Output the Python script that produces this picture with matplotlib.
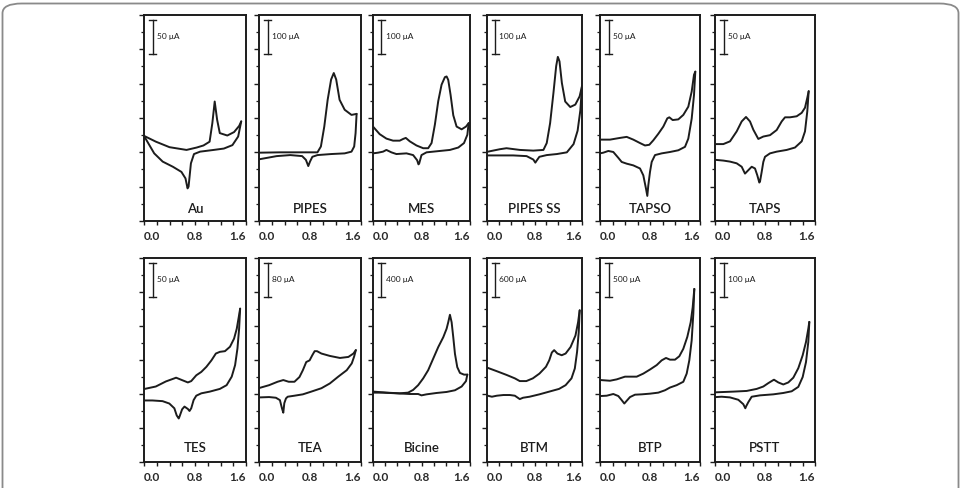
"""
Cyclic voltammograms of 12 buffers, redrawn as a 2 x 6 grid of small panels.
x: potential (V), y: current in scale-bar divisions (1 division = label on the bar).
"""

import matplotlib.pyplot as plt
from matplotlib.patches import FancyBboxPatch
from matplotlib.ticker import MultipleLocator

plt.rcParams["font.family"] = ["Lato", "DejaVu Sans"]

# ---------------------------------------------------------------------------
# DATA  -- (potential V, current in divisions), anodic sweep then reverse sweep
# ---------------------------------------------------------------------------
NAMES = ["Au", "PIPES", "MES", "PIPES SS", "TAPSO", "TAPS",
         "TES", "TEA", "Bicine", "BTM", "BTP", "PSTT"]
SCALES = ["50 μA", "100 μA", "100 μA", "100 μA", "50 μA", "50 μA",
          "50 μA", "80 μA", "400 μA", "600 μA", "500 μA", "100 μA"]

AU_UP = [(0.0, 2.48), (0.187, 2.31), (0.40, 2.15), (0.667, 2.07), (0.827, 2.14),
         (0.933, 2.20), (1.029, 2.31), (1.072, 2.85), (1.109, 3.48), (1.147, 2.95),
         (1.189, 2.56), (1.307, 2.49), (1.413, 2.59), (1.493, 2.77), (1.525, 2.90)]
AU_DN = [(1.525, 2.90), (1.477, 2.46), (1.387, 2.21), (1.253, 2.11), (1.093, 2.07),
         (0.88, 2.02), (0.784, 1.95), (0.736, 1.68), (0.699, 1.00), (0.683, 0.95),
         (0.651, 1.24), (0.587, 1.43), (0.453, 1.58), (0.293, 1.73), (0.16, 1.97),
         (0.053, 2.31), (0.0, 2.48)]

PIPES_UP = [(0.01, 1.99), (0.33, 2.0), (0.70, 2.0), (0.917, 2.0), (0.971, 2.17),
            (1.024, 2.75), (1.077, 3.53), (1.131, 4.12), (1.173, 4.31), (1.211, 4.12),
            (1.264, 3.53), (1.344, 3.24), (1.451, 3.09), (1.531, 3.12)]
PIPES_DN = [(1.531, 3.12), (1.515, 2.56), (1.493, 2.17), (1.451, 2.02), (1.344, 1.97),
            (1.131, 1.95), (0.917, 1.92), (0.837, 1.87), (0.80, 1.73), (0.773, 1.60),
            (0.736, 1.78), (0.677, 1.89), (0.491, 1.92), (0.277, 1.89), (0.01, 1.80)]

MES_UP = [(0.0, 2.75), (0.11, 2.53), (0.221, 2.40), (0.331, 2.34), (0.441, 2.34),
          (0.497, 2.39), (0.541, 2.42), (0.607, 2.32), (0.717, 2.20), (0.828, 2.12),
          (0.91, 2.12), (0.966, 2.27), (1.021, 2.81), (1.076, 3.49), (1.131, 3.97),
          (1.186, 4.19), (1.214, 4.21), (1.241, 4.11), (1.28, 3.67), (1.324, 3.08),
          (1.379, 2.75), (1.462, 2.67), (1.534, 2.75), (1.578, 2.85)]
MES_DN = [(1.578, 2.85), (1.556, 2.51), (1.501, 2.27), (1.407, 2.14), (1.269, 2.07),
          (1.103, 2.04), (0.883, 2.0), (0.80, 1.92), (0.761, 1.67), (0.75, 1.65),
          (0.728, 1.77), (0.662, 1.92), (0.552, 1.97), (0.386, 1.95), (0.303, 2.0),
          (0.221, 2.07), (0.166, 2.02), (0.083, 1.99), (0.0, 1.97)]

PIPESSS_UP = [(0.017, 2.02), (0.215, 2.09), (0.328, 2.12), (0.554, 2.07), (0.78, 2.05),
              (0.95, 2.07), (1.006, 2.27), (1.063, 2.85), (1.119, 3.73), (1.165, 4.51),
              (1.193, 4.78), (1.221, 4.65), (1.261, 4.02), (1.317, 3.48), (1.402, 3.32),
              (1.487, 3.39), (1.56, 3.63), (1.6, 3.93)]
PIPESSS_DN = [(1.6, 3.93), (1.572, 3.22), (1.526, 2.63), (1.458, 2.24), (1.345, 2.0),
              (1.176, 1.95), (1.006, 1.92), (0.882, 1.87), (0.837, 1.76), (0.814, 1.70),
              (0.78, 1.79), (0.667, 1.89), (0.441, 1.91), (0.215, 1.91), (0.017, 1.91)]

TAPSO_UP = [(0.011, 2.37), (0.16, 2.37), (0.32, 2.42), (0.427, 2.45), (0.533, 2.37),
            (0.64, 2.27), (0.72, 2.20), (0.789, 2.22), (0.853, 2.35), (0.933, 2.54),
            (1.013, 2.75), (1.077, 2.99), (1.109, 3.02), (1.163, 2.94), (1.253, 2.96),
            (1.333, 3.09), (1.413, 3.33), (1.467, 3.77), (1.504, 4.26), (1.525, 4.35)]
TAPSO_DN = [(1.525, 4.35), (1.504, 3.67), (1.467, 2.98), (1.413, 2.40), (1.36, 2.16),
            (1.253, 2.06), (1.12, 2.01), (0.987, 1.97), (0.88, 1.92), (0.827, 1.72),
            (0.80, 1.43), (0.773, 1.04), (0.757, 0.73), (0.736, 0.94), (0.693, 1.33),
            (0.64, 1.53), (0.533, 1.62), (0.427, 1.67), (0.347, 1.72), (0.293, 1.84),
            (0.213, 2.01), (0.133, 2.04), (0.053, 1.99), (0.0, 1.97)]

TAPS_UP = [(0.016, 2.24), (0.133, 2.24), (0.24, 2.32), (0.347, 2.61), (0.427, 2.90),
           (0.496, 3.03), (0.56, 2.90), (0.613, 2.66), (0.693, 2.39), (0.773, 2.46),
           (0.88, 2.50), (0.987, 2.65), (1.067, 2.90), (1.12, 3.02), (1.20, 3.02),
           (1.307, 3.05), (1.387, 3.15), (1.44, 3.30), (1.477, 3.59), (1.499, 3.78)]
TAPS_DN = [(1.499, 3.78), (1.477, 3.20), (1.44, 2.61), (1.387, 2.32), (1.28, 2.14),
           (1.147, 2.07), (0.987, 2.02), (0.88, 1.97), (0.80, 1.87), (0.773, 1.72),
           (0.747, 1.43), (0.72, 1.15), (0.709, 1.12), (0.677, 1.33), (0.64, 1.53),
           (0.587, 1.58), (0.533, 1.48), (0.48, 1.38), (0.427, 1.58), (0.347, 1.68),
           (0.24, 1.73), (0.133, 1.76), (0.016, 1.78)]

TES_UP = [(0.011, 2.15), (0.185, 2.22), (0.344, 2.37), (0.476, 2.46), (0.503, 2.48),
          (0.582, 2.42), (0.688, 2.34), (0.741, 2.38), (0.82, 2.55), (0.899, 2.65),
          (0.979, 2.80), (1.058, 2.99), (1.127, 3.19), (1.19, 3.24), (1.27, 3.26),
          (1.349, 3.39), (1.413, 3.63), (1.455, 3.92), (1.487, 4.27), (1.508, 4.51)]
TES_DN = [(1.508, 4.51), (1.492, 3.92), (1.466, 3.34), (1.429, 2.85), (1.376, 2.51),
          (1.296, 2.26), (1.19, 2.15), (1.032, 2.07), (0.899, 2.02), (0.82, 1.95),
          (0.778, 1.82), (0.741, 1.58), (0.714, 1.50), (0.688, 1.56), (0.635, 1.63),
          (0.598, 1.55), (0.556, 1.33), (0.545, 1.28), (0.513, 1.37), (0.476, 1.58),
          (0.397, 1.72), (0.291, 1.79), (0.132, 1.81), (0.011, 1.81)]

TEA_UP = [(0.011, 2.18), (0.159, 2.26), (0.291, 2.36), (0.381, 2.41), (0.466, 2.36),
          (0.556, 2.36), (0.635, 2.50), (0.688, 2.70), (0.741, 2.94), (0.794, 2.99),
          (0.836, 3.14), (0.873, 3.26), (0.91, 3.26), (0.979, 3.19), (1.111, 3.12),
          (1.27, 3.06), (1.402, 3.09), (1.481, 3.19), (1.519, 3.29)]
TEA_DN = [(1.519, 3.29), (1.492, 3.10), (1.455, 2.90), (1.376, 2.70), (1.243, 2.51),
          (1.111, 2.31), (0.979, 2.17), (0.82, 2.07), (0.688, 1.99), (0.556, 1.95),
          (0.45, 1.92), (0.423, 1.87), (0.397, 1.73), (0.381, 1.45), (0.36, 1.58),
          (0.328, 1.82), (0.265, 1.89), (0.159, 1.91), (0.011, 1.90)]

BICINE_UP = [(0.011, 2.07), (0.221, 2.04), (0.441, 2.02), (0.579, 2.04), (0.662, 2.12),
             (0.745, 2.26), (0.828, 2.46), (0.91, 2.70), (0.993, 3.04), (1.076, 3.38),
             (1.159, 3.67), (1.214, 3.92), (1.241, 4.11), (1.269, 4.33), (1.297, 4.11),
             (1.324, 3.67), (1.352, 3.18), (1.39, 2.79), (1.434, 2.62), (1.501, 2.57),
             (1.556, 2.57)]
BICINE_DN = [(1.556, 2.57), (1.534, 2.38), (1.462, 2.22), (1.352, 2.11), (1.214, 2.06),
             (1.048, 2.03), (0.883, 1.99), (0.80, 1.96), (0.745, 2.0), (0.607, 2.0),
             (0.386, 2.02), (0.166, 2.04), (0.011, 2.04)]

BTM_UP = [(0.011, 2.77), (0.166, 2.67), (0.331, 2.56), (0.469, 2.46), (0.552, 2.38),
          (0.662, 2.38), (0.772, 2.46), (0.883, 2.60), (0.993, 2.80), (1.048, 2.99),
          (1.092, 3.22), (1.131, 3.29), (1.186, 3.19), (1.258, 3.14), (1.324, 3.19),
          (1.407, 3.38), (1.49, 3.72), (1.534, 4.11), (1.561, 4.46)]
BTM_DN = [(1.561, 4.46), (1.545, 3.82), (1.517, 3.24), (1.479, 2.75), (1.423, 2.46),
          (1.324, 2.26), (1.214, 2.15), (1.048, 2.07), (0.883, 1.99), (0.717, 1.92),
          (0.607, 1.89), (0.552, 1.85), (0.469, 1.95), (0.386, 1.97), (0.276, 1.97),
          (0.166, 1.95), (0.083, 1.92), (0.011, 1.95)]

BTP_UP = [(0.011, 2.41), (0.16, 2.39), (0.267, 2.43), (0.40, 2.51), (0.587, 2.51),
          (0.693, 2.60), (0.80, 2.72), (0.907, 2.85), (0.987, 2.99), (1.056, 3.06),
          (1.12, 3.01), (1.20, 3.01), (1.269, 3.11), (1.333, 3.33), (1.397, 3.68),
          (1.451, 4.11), (1.483, 4.55), (1.509, 5.09)]
BTP_DN = [(1.509, 5.09), (1.493, 4.36), (1.467, 3.58), (1.429, 2.99), (1.387, 2.60),
          (1.333, 2.36), (1.227, 2.26), (1.12, 2.19), (1.04, 2.11), (0.933, 2.04),
          (0.80, 2.01), (0.667, 1.99), (0.56, 1.98), (0.48, 1.91), (0.427, 1.80),
          (0.389, 1.72), (0.347, 1.82), (0.293, 1.94), (0.213, 2.0), (0.107, 1.95),
          (0.011, 1.94)]

PSTT_UP = [(0.016, 2.05), (0.293, 2.07), (0.507, 2.09), (0.667, 2.15), (0.773, 2.22),
           (0.853, 2.32), (0.933, 2.41), (0.944, 2.42), (1.013, 2.34), (1.093, 2.28),
           (1.173, 2.34), (1.253, 2.48), (1.333, 2.76), (1.403, 3.14), (1.456, 3.53),
           (1.493, 3.92), (1.509, 4.12)]
PSTT_DN = [(1.509, 4.12), (1.493, 3.53), (1.456, 2.94), (1.403, 2.50), (1.333, 2.21),
           (1.227, 2.08), (1.093, 2.03), (0.933, 1.99), (0.72, 1.96), (0.587, 1.92),
           (0.533, 1.76), (0.496, 1.63), (0.485, 1.58), (0.453, 1.70), (0.373, 1.83),
           (0.24, 1.90), (0.107, 1.92), (0.016, 1.91)]

CURVES = [(AU_UP, AU_DN), (PIPES_UP, PIPES_DN), (MES_UP, MES_DN),
          (PIPESSS_UP, PIPESSS_DN), (TAPSO_UP, TAPSO_DN), (TAPS_UP, TAPS_DN),
          (TES_UP, TES_DN), (TEA_UP, TEA_DN), (BICINE_UP, BICINE_DN),
          (BTM_UP, BTM_DN), (BTP_UP, BTP_DN), (PSTT_UP, PSTT_DN)]

# ---------------------------------------------------------------------------
# LAYOUT (pixels of the 961 x 488 canvas)
# ---------------------------------------------------------------------------
W, H = 961, 488
COL_EDGES = [(144, 246), (259, 361), (373, 470), (487, 582), (600, 700), (715, 815)]
ROW_EDGES = [(15, 221), (258, 462)]
INK = "#1c1c1c"

fig = plt.figure(figsize=(W / 100, H / 100), dpi=100)

# rounded outer frame, open at the bottom (cut off in the original)
frame = FancyBboxPatch((2.5 / W, -0.2), (W - 5) / W, 1.2 - 3.5 / H,
                       boxstyle="round,pad=0,rounding_size=0.02",
                       transform=fig.transFigure, fill=False,
                       edgecolor="#8a8a8a", lw=1.3)
fig.patches.append(frame)

for i, (name, scale, (up, dn)) in enumerate(zip(NAMES, SCALES, CURVES)):
    top, bottom = ROW_EDGES[i // 6]
    left, right = COL_EDGES[i % 6]
    ax = fig.add_axes([left / W, 1 - bottom / H, (right - left) / W, (bottom - top) / H])

    for seg in (up, dn):
        ax.plot([p[0] for p in seg], [p[1] for p in seg], color=INK, lw=1.4,
                solid_joinstyle="round", solid_capstyle="round")

    ax.set_xlim(0, 1.6)
    ax.set_ylim(0, 6.0)

    # scale bar
    xb = 0.14
    ax.plot([xb, xb], [4.86, 5.86], color=INK, lw=1.0)
    for yb in (4.86, 5.86):
        ax.plot([xb - 0.055, xb + 0.055], [yb, yb], color=INK, lw=1.0)
    ax.text(xb + 0.07, 5.36, scale, fontsize=6, color=INK, va="center", ha="left")

    ax.text(0.8, 0.36 if i < 6 else 0.42, name, fontsize=9.5, color=INK,
            fontweight="semibold", ha="center", va="center")

    for s in ax.spines.values():
        s.set_linewidth(1.4)
        s.set_color(INK)

    ax.yaxis.set_major_locator(MultipleLocator(1.0))
    ax.yaxis.set_minor_locator(MultipleLocator(0.5))
    ax.set_xticks([0.0, 0.8, 1.6])
    ax.xaxis.set_minor_locator(MultipleLocator(0.2))
    ax.tick_params(axis="y", which="major", direction="out", length=3.5, width=1.0,
                   color=INK, labelleft=False)
    ax.tick_params(axis="y", which="minor", direction="out", length=2.0, width=0.9,
                   color=INK)
    ax.tick_params(axis="x", which="both", direction="out", length=3.0, width=1.0,
                   color=INK, pad=4)
    labels = ax.set_xticklabels(["0.0", "0.8", "1.6"], fontsize=8.5,
                                fontweight="bold", color="#2a2a2a")
    labels[0].set_ha("left")
    labels[2].set_ha("right")

fig.savefig("out.png", dpi=100)
